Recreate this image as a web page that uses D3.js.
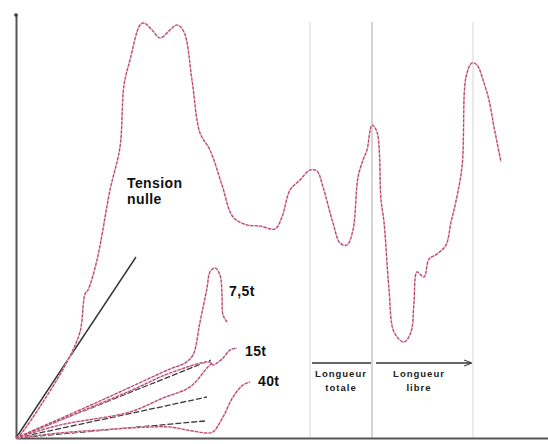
<!DOCTYPE html>
<html>
<head>
<meta charset="utf-8">
<script src="https://cdn.jsdelivr.net/npm/d3@7"></script>
<style>
  html, body { margin: 0; padding: 0; background: #fff; }
  svg { display: block; font-family: "Liberation Sans", Arial, sans-serif; }
</style>
</head>
<body>
<svg width="548" height="444"></svg>
<script>
// curves, in chart units [x, y]
var tensionNulle = [[0,0],[0.8,0.6],[5.4,7.2],[10.2,15.2],[12.8,21.2],[13.8,28.8],[14.4,29.6],[16.2,35.6],
  [18.8,49.6],[20.8,58.2],[21.6,70.6],[22.8,75.6],[24.8,82.6],[25.6,83],[27.2,81.6],[28.8,80],[30.8,81.6],
  [32.2,82.6],[33.6,81.2],[35.2,71.6],[36.8,61],[38.8,57.6],[41.2,50.6],[43.4,44.2],[46.2,42.6],[48.8,42.4],
  [51.8,41.8],[53.2,44.2],[54.8,49.6],[56.8,51.6],[58.8,53.6],[60.2,53.4],[61.4,50.2],[63.4,43],[64.8,39],
  [66.2,38.6],[67.4,41.6],[68.4,52.2],[69.4,55.6],[70.2,57.6],[71.2,62.6],[72.2,61.2],[73,47.6],[73.6,43.2],
  [74.6,29.8],[75.6,21.2],[77.6,19.2],[79,21.2],[79.6,27.2],[80.2,33.2],[81.6,32.2],[82.6,35.8],[84.2,36.8],
  [86,38.6],[87,43.2],[87.6,45.6],[89.2,54.2],[90,72.2],[91.2,75],[92.2,74.6],[93.6,71],[94.6,67.6],
  [95.6,62.2],[97,55.2]];
var t75 = [[0,0],[16.8,7.4],[30.8,13.8],[33.8,15],[35.4,16.6],[36.8,23.2],[38.2,30],[38.8,33.2],[39.8,34],
  [40.8,32.6],[41.2,28.6],[41.4,24.6],[42.2,23.2]];
var t15 = [[0,0],[22.8,9.4],[30.8,13],[38.8,15.2],[39.4,14.6],[41.4,16],[42.8,17.6],[44.2,18]];
var t15b = [[0,0],[8.8,2.6],[22.8,5.2],[29.4,8],[34.8,10.2],[38.2,14],[39.2,15]];
var t40 = [[0,0],[8.8,1],[16.8,1.6],[26.8,2.2],[30.8,2.2],[34.2,1.6],[38.2,1],[39.4,1.2],[41.4,4.2],
  [43.4,8.2],[45.4,10.6],[46.8,11.2]];
// straight reference lines (no slip)
var refSolid = [[0,0],[24,36.2]];
var refDashed = [[[0,0],[39,15.6]], [[0,0],[38.2,8.2]], [[0,0],[37.8,3.4]]];
// vertical markers and labels
var markers = [58.8, 71.2, 91.4];
var markerTop = 83.2;
var curveLabels = [
  {text: 'Tension', x: 22.2, y: 50},
  {text: 'nulle', x: 22.2, y: 46.8},
  {text: '7,5t', x: 42.6, y: 28.4},
  {text: '15t', x: 45.8, y: 16.4},
  {text: '40t', x: 48.4, y: 10.4}
];
var spans = [
  {from: 59.2, to: 71, y: 15, lines: ['Longueur', 'totale'], cx: 65},
  {from: 72, to: 91, y: 15, lines: ['Longueur', 'libre'], cx: 80.6}
];

var svg = d3.select('svg');
var x = d3.scaleLinear().domain([0, 100]).range([16, 516]);
var y = d3.scaleLinear().domain([0, 80]).range([438, 38]);
var line = d3.line().x(d => x(d[0])).y(d => y(d[1]));
var smooth = d3.line().x(d => x(d[0])).y(d => y(d[1])).curve(d3.curveCatmullRom.alpha(0.5));

// vertical markers
svg.selectAll('.marker').data(markers).enter().append('line')
  .attr('x1', d => x(d)).attr('x2', d => x(d))
  .attr('y1', y(markerTop)).attr('y2', y(0))
  .attr('stroke', (d, i) => i == 1 ? '#b8b8b8' : '#dcdcdc')
  .attr('stroke-width', 1.2);

// axes
var xAxisScale = d3.scaleLinear().domain([0, 106.4]).range([x(0), x(106.4)]);
var yAxisScale = d3.scaleLinear().domain([0, 84.6]).range([y(0), y(84.6)]);
svg.append('g').attr('transform', `translate(0,${y(0)})`)
  .call(d3.axisBottom(xAxisScale).ticks(0).tickSizeOuter(0));
svg.append('g').attr('transform', `translate(${x(0)},0)`)
  .call(d3.axisLeft(yAxisScale).ticks(0).tickSizeOuter(0));
svg.selectAll('.domain').attr('stroke', '#555').attr('stroke-width', 2);
svg.append('circle').attr('cx', x(0)).attr('cy', yAxisScale(84.6)).attr('r', 1.8).attr('fill', '#333');

// reference lines
svg.append('path').attr('d', line(refSolid)).attr('fill', 'none')
  .attr('stroke', '#333').attr('stroke-width', 1.4);
svg.selectAll('.ref').data(refDashed).enter().append('path')
  .attr('d', d => line(d)).attr('fill', 'none')
  .attr('stroke', '#3a3a3a').attr('stroke-width', 1.3).attr('stroke-dasharray', '6,2');

// curves: pale pink halo + dark pink dashes
var curves = [tensionNulle, t75, t15, t15b, t40];
svg.selectAll('.halo').data(curves).enter().append('path')
  .attr('d', d => smooth(d)).attr('fill', 'none')
  .attr('stroke', '#f3b8c8').attr('stroke-width', 1.6);
svg.selectAll('.curve').data(curves).enter().append('path')
  .attr('d', d => smooth(d)).attr('fill', 'none')
  .attr('stroke', '#b04a6e').attr('stroke-width', 1.2).attr('stroke-dasharray', '3,1.5');

// curve labels
svg.selectAll('.lbl').data(curveLabels).enter().append('text')
  .attr('x', d => x(d.x)).attr('y', d => y(d.y))
  .attr('font-size', 14).attr('font-weight', 'bold').attr('letter-spacing', 0.4).attr('fill', '#111')
  .text(d => d.text);

// length spans
var defs = svg.append('defs');
defs.append('marker').attr('id', 'arr').attr('viewBox', '0 0 8 8').attr('refX', 7).attr('refY', 4)
  .attr('markerWidth', 6).attr('markerHeight', 6).attr('orient', 'auto')
  .append('path').attr('d', 'M0,1L8,4L0,7').attr('fill', 'none').attr('stroke', '#333').attr('stroke-width', 1);
spans.forEach(function (s, i) {
  svg.append('line').attr('x1', x(s.from)).attr('x2', x(s.to))
    .attr('y1', y(s.y)).attr('y2', y(s.y))
    .attr('stroke', '#333').attr('stroke-width', 1.4)
    .attr('marker-end', i == 1 ? 'url(#arr)' : null);
  svg.selectAll('.sp' + i).data(s.lines).enter().append('text')
    .attr('x', x(s.cx)).attr('y', (d, j) => y(s.y) + 14 + j * 14)
    .attr('text-anchor', 'middle').attr('font-size', 9.5).attr('font-weight', 'bold')
    .attr('letter-spacing', 1).attr('fill', '#222')
    .text(d => d);
});
</script>
</body>
</html>
